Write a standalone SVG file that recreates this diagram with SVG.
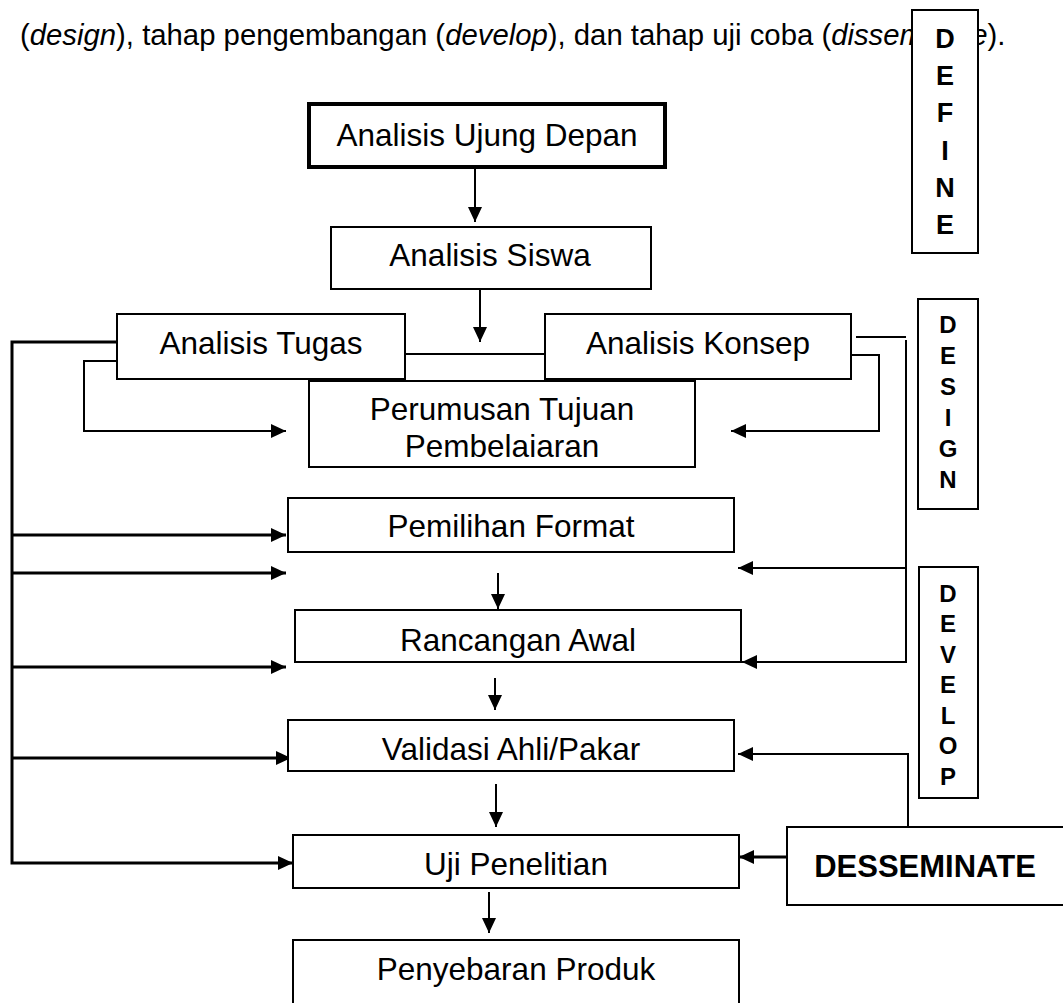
<svg xmlns="http://www.w3.org/2000/svg" width="1063" height="1003" viewBox="0 0 1063 1003">
<style>
.body{font-family:"Liberation Sans",Arial,sans-serif;font-size:29.3px;fill:#000}
.box{fill:#fff;stroke:#000;stroke-width:2}
.lbl{font-family:"Liberation Sans",Arial,sans-serif;font-size:31.5px;fill:#000;text-anchor:middle}
.stage{font-family:"Liberation Sans",Arial,sans-serif;font-weight:bold;fill:#000;text-anchor:middle}
.c{fill:none;stroke:#000;stroke-width:2}
.t{fill:none;stroke:#000;stroke-width:3}
</style>
<defs>
<marker id="ah" markerWidth="15" markerHeight="14" refX="15" refY="7" orient="auto" markerUnits="userSpaceOnUse">
<path d="M0,0 L15,7 L0,14 z" fill="#000"/>
</marker>
<clipPath id="rcClip"><rect x="295" y="610" width="446" height="52"/></clipPath>
</defs>
<rect width="1063" height="1003" fill="#fff"/>

<text class="body" x="20" y="45">(<tspan font-style="italic">design</tspan>), tahap pengembangan (<tspan font-style="italic">develop</tspan>), dan tahap uji coba (<tspan font-style="italic">disseminate</tspan>).</text>

<g id="connectors">
<path class="c" d="M475,169 V222" marker-end="url(#ah)"/>
<path class="c" d="M480,289 V342" marker-end="url(#ah)"/>
<path class="c" d="M405,354 H545"/>
<path class="t" d="M117,342 H12 V863 H293" marker-end="url(#ah)"/>
<path class="t" d="M12,535 H286" marker-end="url(#ah)"/>
<path class="t" d="M12,573 H286" marker-end="url(#ah)"/>
<path class="t" d="M12,667 H286" marker-end="url(#ah)"/>
<path class="t" d="M12,758 H291" marker-end="url(#ah)"/>
<path class="c" d="M117,361 H84 V431 H286" marker-end="url(#ah)"/>
<path class="c" d="M856,337 H906"/>
<path class="c" d="M906,340 V662 H742" marker-end="url(#ah)"/>
<path class="c" d="M906,568 H738" marker-end="url(#ah)"/>
<path class="c" d="M851,355 H879 V431 H731" marker-end="url(#ah)"/>
<path class="c" d="M498,573 V609" marker-end="url(#ah)"/>
<path class="c" d="M495,678 V710" marker-end="url(#ah)"/>
<path class="c" d="M496,784 V827" marker-end="url(#ah)"/>
<path class="c" d="M489,892 V933" marker-end="url(#ah)"/>
<path class="t" d="M787,857 H739" marker-end="url(#ah)"/>
<path class="c" d="M908,827 V754 H738" marker-end="url(#ah)"/>
</g>

<g id="define">
<rect class="box" x="912" y="10" width="66" height="243"/>
<text class="stage" font-size="27" x="945" y="48">D</text>
<text class="stage" font-size="27" x="945" y="85">E</text>
<text class="stage" font-size="27" x="945" y="122">F</text>
<text class="stage" font-size="27" x="945" y="160">I</text>
<text class="stage" font-size="27" x="945" y="197">N</text>
<text class="stage" font-size="27" x="945" y="234">E</text>
</g>

<g id="design">
<rect class="box" x="918" y="299" width="60" height="210"/>
<text class="stage" font-size="24" x="948" y="333">D</text>
<text class="stage" font-size="24" x="948" y="364">E</text>
<text class="stage" font-size="24" x="948" y="395">S</text>
<text class="stage" font-size="24" x="948" y="426">I</text>
<text class="stage" font-size="24" x="948" y="457">G</text>
<text class="stage" font-size="24" x="948" y="488">N</text>
</g>

<g id="develop">
<rect class="box" x="919" y="567" width="59" height="231"/>
<text class="stage" font-size="24" x="948" y="602">D</text>
<text class="stage" font-size="24" x="948" y="632">E</text>
<text class="stage" font-size="24" x="948" y="663">V</text>
<text class="stage" font-size="24" x="948" y="693">E</text>
<text class="stage" font-size="24" x="948" y="724">L</text>
<text class="stage" font-size="24" x="948" y="754">O</text>
<text class="stage" font-size="24" x="948" y="785">P</text>
</g>

<g id="desseminate">
<rect class="box" x="787" y="827" width="290" height="78"/>
<text class="stage" font-size="31" x="925" y="877">DESSEMINATE</text>
</g>

<g id="analisis-ujung-depan">
<rect x="309" y="104" width="356" height="63" fill="#fff" stroke="#000" stroke-width="4"/>
<text class="lbl" x="487" y="146">Analisis Ujung Depan</text>
</g>

<g id="analisis-siswa">
<rect class="box" x="331" y="227" width="320" height="62"/>
<text class="lbl" x="490" y="266">Analisis Siswa</text>
</g>

<g id="perumusan-tujuan">
<rect class="box" x="309" y="381" width="386" height="86"/>
<text class="lbl" x="502" y="420">Perumusan Tujuan</text>
<text class="lbl" x="502" y="457">Pembelaiaran</text>
</g>

<g id="analisis-tugas">
<rect class="box" x="117" y="314" width="288" height="65"/>
<text class="lbl" x="261" y="354">Analisis Tugas</text>
</g>

<g id="analisis-konsep">
<rect class="box" x="545" y="314" width="306" height="65"/>
<text class="lbl" x="698" y="354">Analisis Konsep</text>
</g>

<g id="pemilihan-format">
<rect class="box" x="288" y="498" width="446" height="54"/>
<text class="lbl" x="511" y="537">Pemilihan Format</text>
</g>

<g id="rancangan-awal">
<rect class="box" x="295" y="610" width="446" height="52"/>
<text class="lbl" x="518" y="651" clip-path="url(#rcClip)">Rancangan Awal</text>
</g>

<g id="validasi">
<rect class="box" x="288" y="720" width="446" height="51"/>
<text class="lbl" x="511" y="760">Validasi Ahli/Pakar</text>
</g>

<g id="uji-penelitian">
<rect class="box" x="293" y="835" width="446" height="53"/>
<text class="lbl" x="516" y="875">Uji Penelitian</text>
</g>

<g id="penyebaran-produk">
<rect class="box" x="293" y="940" width="446" height="80"/>
<text class="lbl" x="516" y="980">Penyebaran Produk</text>
</g>
</svg>
